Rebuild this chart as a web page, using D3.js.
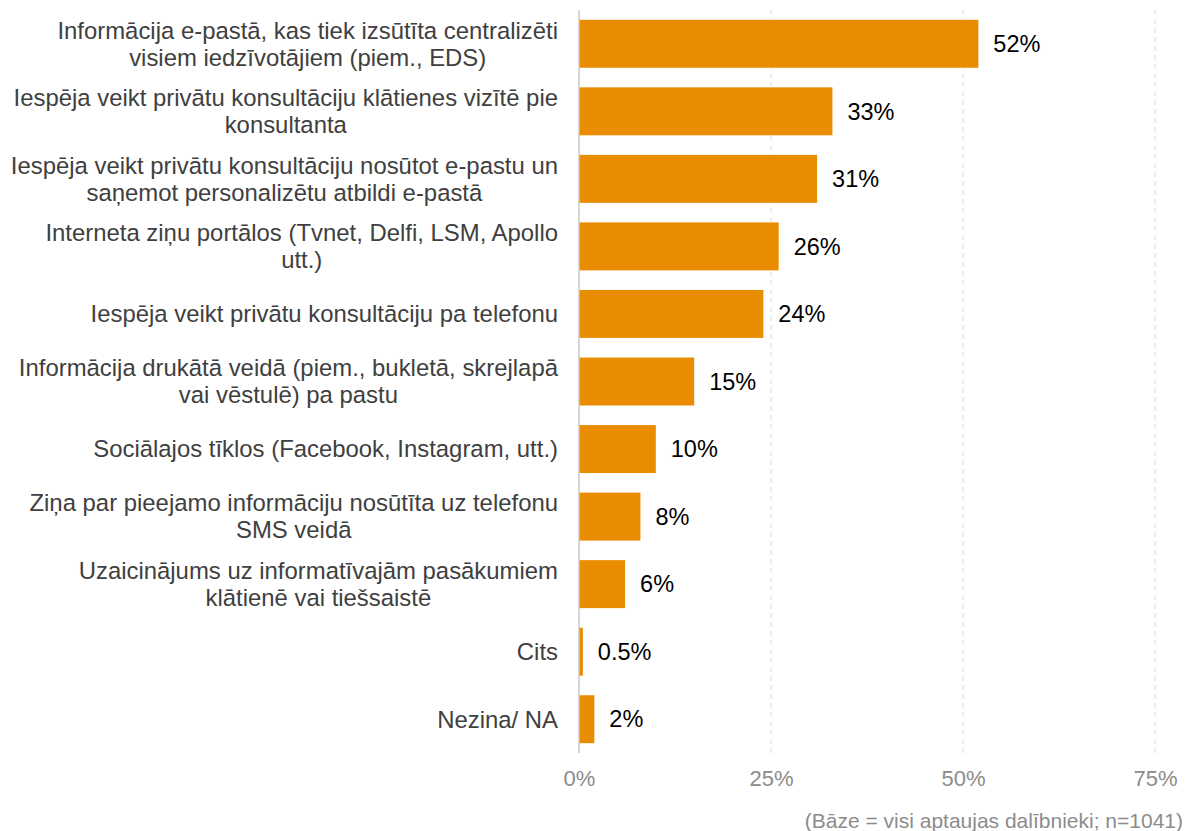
<!DOCTYPE html>
<html>
<head>
<meta charset="utf-8">
<script src="https://cdn.jsdelivr.net/npm/d3@7"></script>
<style>
  html, body { margin: 0; padding: 0; background: #fff; }
  svg { display: block; font-family: "Liberation Sans", Arial, sans-serif; }
</style>
</head>
<body>
<svg id="chart" width="1187" height="831"></svg>
<script>
// Survey answers: one entry per category, each label split into its lines
const categories = [
  ["Informācija e-pastā, kas tiek izsūtīta centralizēti", "visiem iedzīvotājiem (piem., EDS)"],
  ["Iespēja veikt privātu konsultāciju klātienes vizītē pie", "konsultanta"],
  ["Iespēja veikt privātu konsultāciju nosūtot e-pastu un", "saņemot personalizētu atbildi e-pastā"],
  ["Interneta ziņu portālos (Tvnet, Delfi, LSM, Apollo", "utt.)"],
  ["Iespēja veikt privātu konsultāciju pa telefonu"],
  ["Informācija drukātā veidā (piem., bukletā, skrejlapā", "vai vēstulē) pa pastu"],
  ["Sociālajos tīklos (Facebook, Instagram, utt.)"],
  ["Ziņa par pieejamo informāciju nosūtīta uz telefonu", "SMS veidā"],
  ["Uzaicinājums uz informatīvajām pasākumiem", "klātienē vai tiešsaistē"],
  ["Cits"],
  ["Nezina/ NA"]
];
const values = [52, 33, 31, 26, 24, 15, 10, 8, 6, 0.5, 2];
const valueLabels = ["52%", "33%", "31%", "26%", "24%", "15%", "10%", "8%", "6%", "0.5%", "2%"];
const tickValues = [0, 25, 50, 75];
const tickLabels = ["0%", "25%", "50%", "75%"];
const footnote = "(Bāze = visi aptaujas dalībnieki; n=1041)";

const svg = d3.select("#chart");
const plot = { left: 579, right: 1155, top: 10, bottom: 753 };
const barColor = "#EA8C00";

const x = d3.scaleLinear().domain([0, 75]).range([plot.left, plot.right]);
const y = d3.scaleBand()
  .domain(d3.range(categories.length))
  .range([plot.top, plot.bottom])
  .paddingInner(0.29)
  .paddingOuter(0.145);

// dashed vertical gridlines
svg.append("g")
  .selectAll("line")
  .data(tickValues.filter(t => t > 0))
  .join("line")
  .attr("x1", d => x(d)).attr("x2", d => x(d))
  .attr("y1", plot.top).attr("y2", plot.bottom)
  .attr("stroke", "#dcdcdc")
  .attr("stroke-width", 1)
  .attr("stroke-dasharray", "5,4");

// bars
svg.append("g")
  .selectAll("rect")
  .data(values)
  .join("rect")
  .attr("x", x(0))
  .attr("y", (d, i) => y(i))
  .attr("width", d => x(d) - x(0))
  .attr("height", y.bandwidth())
  .attr("fill", barColor);

// zero baseline
svg.append("line")
  .attr("x1", x(0)).attr("x2", x(0))
  .attr("y1", plot.top).attr("y2", plot.bottom)
  .attr("stroke", "#c8c8c8")
  .attr("stroke-width", 1.5);

// value labels to the right of each bar
svg.append("g")
  .selectAll("text")
  .data(values)
  .join("text")
  .attr("x", d => x(d) + 15)
  .attr("y", (d, i) => y(i) + y.bandwidth() / 2)
  .attr("dy", "0.35em")
  .attr("font-size", 23.5)
  .attr("fill", "#000")
  .text((d, i) => valueLabels[i]);

// category labels: lines centred on each other, block right-aligned to the axis
const labelRight = 558;
const lineH = 27;
const catG = svg.append("g");
categories.forEach((lines, i) => {
  const cy = y(i) + y.bandwidth() / 2;
  const t = catG.append("text")
    .attr("font-size", 23.9)
    .attr("fill", "#404040")
    .attr("text-anchor", "middle");
  const spans = lines.map((ln, j) => t.append("tspan")
    .attr("y", cy + (j - (lines.length - 1) / 2) * lineH)
    .attr("dy", "0.35em")
    .text(ln));
  const maxW = d3.max(spans, s => s.node().getComputedTextLength());
  spans.forEach(s => s.attr("x", labelRight - maxW / 2));
});

// x-axis tick labels
const xAxis = d3.axisBottom(x)
  .tickValues(tickValues)
  .tickFormat((d, i) => tickLabels[i])
  .tickSize(0)
  .tickPadding(0);
const ax = svg.append("g")
  .attr("transform", `translate(0, ${plot.bottom})`)
  .call(xAxis);
ax.select(".domain").remove();
ax.selectAll("text")
  .attr("y", 25)
  .attr("dy", "0.35em")
  .attr("font-size", 22)
  .attr("font-family", "Liberation Sans, Arial, sans-serif")
  .attr("fill", "#8c8c8c");

// footnote
svg.append("text")
  .attr("x", 1183)
  .attr("y", 821)
  .attr("dy", "0.35em")
  .attr("text-anchor", "end")
  .attr("font-size", 21)
  .attr("fill", "#8c8c8c")
  .text(footnote);
</script>
</body>
</html>
